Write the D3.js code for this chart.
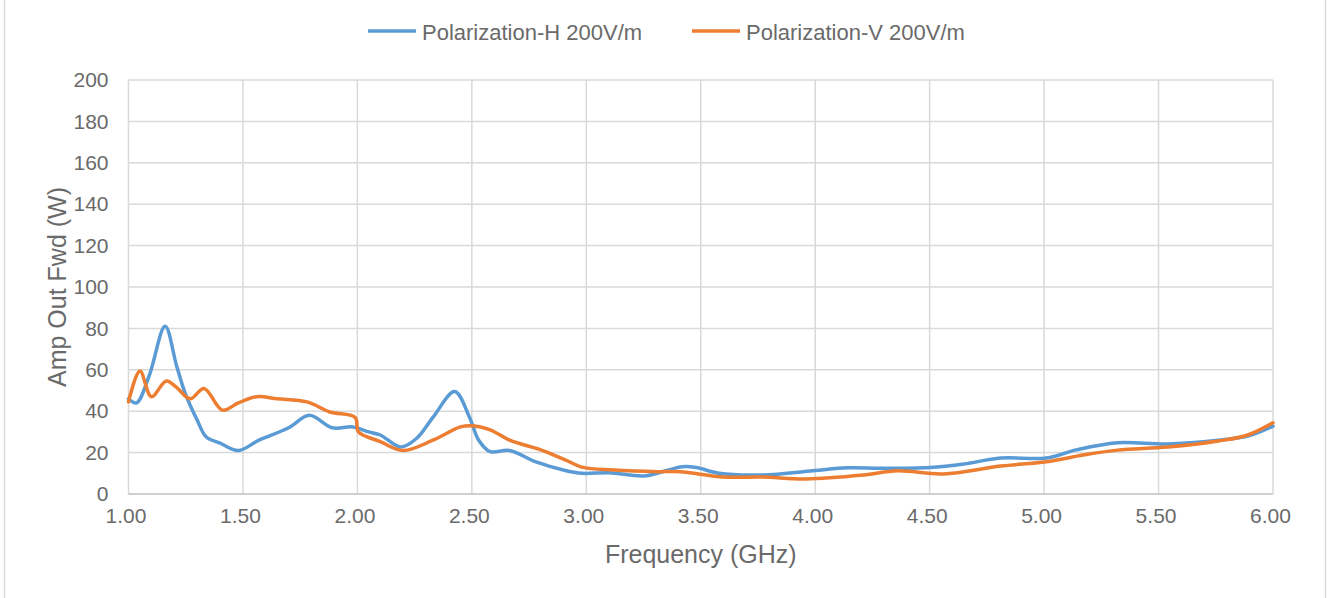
<!DOCTYPE html>
<html>
<head>
<meta charset="utf-8">
<script src="https://cdn.jsdelivr.net/npm/d3@7"></script>
<style>
  html, body { margin: 0; padding: 0; background: #ffffff; }
  svg { display: block; font-family: "Liberation Sans", Arial, sans-serif; }
</style>
</head>
<body>
<svg id="chart" width="1330" height="598"></svg>
<script>
// ---- data ----
const seriesNames = ["Polarization-H 200V/m", "Polarization-V 200V/m"];
const freqH = [1.00, 1.035, 1.09, 1.16, 1.21, 1.25, 1.30, 1.34, 1.40, 1.48, 1.57, 1.70, 1.79, 1.89, 1.98, 2.05, 2.10, 2.19, 2.26, 2.33, 2.425, 2.49, 2.53, 2.58, 2.665, 2.78, 2.90, 2.98, 3.10, 3.25, 3.34, 3.42, 3.48, 3.58, 3.77, 3.99, 4.14, 4.30, 4.50, 4.65, 4.81, 5.01, 5.14, 5.32, 5.54, 5.76, 5.89, 6.00];
const ampH  = [46, 44, 57, 81, 62, 48, 35.7, 27.5, 24.6, 21, 26, 32, 38, 32, 32.4, 30, 28.5, 22.7, 27, 37, 49.5, 37, 26, 20.5, 21, 15.5, 11.6, 10, 10.3, 8.7, 11, 13.2, 12.8, 10, 9.2, 11.2, 12.7, 12.4, 12.8, 14.5, 17.4, 17.4, 21.3, 24.8, 24.2, 26, 28, 32.8];
const freqV = [1.00, 1.05, 1.10, 1.165, 1.21, 1.27, 1.33, 1.41, 1.48, 1.56, 1.65, 1.78, 1.88, 1.99, 2.005, 2.10, 2.20, 2.33, 2.45, 2.50, 2.58, 2.665, 2.81, 2.91, 2.98, 3.12, 3.31, 3.41, 3.60, 3.77, 3.96, 4.21, 4.36, 4.56, 4.81, 5.01, 5.17, 5.32, 5.54, 5.76, 5.89, 6.00];
const ampV  = [44.5, 59.4, 47, 54.6, 51.5, 46, 51, 40.5, 44, 47, 46, 44.5, 39.6, 37, 30, 25.3, 21, 26, 32.4, 33, 31, 26, 21, 16.4, 13, 11.6, 10.8, 10.8, 8.2, 8.2, 7.3, 9.2, 11.2, 9.7, 13.5, 15.6, 18.8, 21.2, 22.7, 25.6, 28.5, 34.4];
const xTicks = [1.0, 1.5, 2.0, 2.5, 3.0, 3.5, 4.0, 4.5, 5.0, 5.5, 6.0];
const yTicks = [0, 20, 40, 60, 80, 100, 120, 140, 160, 180, 200];
const xTitle = "Frequency (GHz)";
const yTitle = "Amp Out Fwd (W)";

// ---- layout ----
const colors = ["#5b9bd5", "#ed7d31"];
const textColor = "#6a6a6a";
const gridColor = "#d9d9d9";
const plot = { left: 128.5, right: 1273, top: 80, bottom: 494 };

const svg = d3.select("#chart");
const x = d3.scaleLinear().domain([1, 6]).range([plot.left, plot.right]);
const y = d3.scaleLinear().domain([0, 200]).range([plot.bottom, plot.top]);

// outer chart border (left and right edges visible)
svg.append("line").attr("x1", 4.5).attr("x2", 4.5).attr("y1", 0).attr("y2", 598)
  .attr("stroke", "#d9d9d9").attr("stroke-width", 1.5);
svg.append("line").attr("x1", 1325.5).attr("x2", 1325.5).attr("y1", 0).attr("y2", 598)
  .attr("stroke", "#d9d9d9").attr("stroke-width", 1.5);

// gridlines
const g = svg.append("g");
g.selectAll("line.h").data(yTicks).join("line").attr("class", "h")
  .attr("x1", plot.left).attr("x2", plot.right)
  .attr("y1", d => y(d)).attr("y2", d => y(d))
  .attr("stroke", gridColor).attr("stroke-width", 1.5);
g.selectAll("line.v").data(xTicks).join("line").attr("class", "v")
  .attr("x1", d => x(d)).attr("x2", d => x(d))
  .attr("y1", plot.top).attr("y2", plot.bottom)
  .attr("stroke", gridColor).attr("stroke-width", 1.5);
// bottom axis line
g.append("line").attr("x1", plot.left).attr("x2", plot.right)
  .attr("y1", plot.bottom).attr("y2", plot.bottom)
  .attr("stroke", "#c8c8c8").attr("stroke-width", 1.5);

// axes with d3 axis generators (lines hidden, labels only)
const xAxis = svg.append("g").attr("transform", `translate(0,${plot.bottom})`)
  .call(d3.axisBottom(x).tickValues(xTicks).tickFormat(d3.format(".2f")).tickSize(0).tickPadding(14));
const yAxis = svg.append("g").attr("transform", `translate(${plot.left},0)`)
  .call(d3.axisLeft(y).tickValues(yTicks).tickSize(0).tickPadding(20));
[xAxis, yAxis].forEach(a => {
  a.select(".domain").remove();
  a.selectAll("text").attr("fill", textColor).style("font-size", "21px")
    .style("font-family", '"Liberation Sans", Arial, sans-serif');
});
xAxis.selectAll("text").attr("dx", "-3");

// axis titles
svg.append("text").attr("x", (plot.left + plot.right) / 2).attr("y", 563)
  .attr("text-anchor", "middle").attr("fill", textColor).style("font-size", "25px").text(xTitle);
svg.append("text").attr("transform", `translate(66,${(plot.top + plot.bottom) / 2}) rotate(-90)`)
  .attr("text-anchor", "middle").attr("fill", textColor).style("font-size", "25px").text(yTitle);

// series
const line = d3.line().x(d => x(d[0])).y(d => y(d[1])).curve(d3.curveCatmullRom.alpha(0.5));
const series = [d3.zip(freqH, ampH), d3.zip(freqV, ampV)];
series.forEach((s, i) => {
  svg.append("path").datum(s).attr("d", line)
    .attr("fill", "none").attr("stroke", colors[i]).attr("stroke-width", 3.5)
    .attr("stroke-linejoin", "round").attr("stroke-linecap", "round");
});

// legend
const legendX = [368, 692];
seriesNames.forEach((name, i) => {
  const lg = svg.append("g").attr("transform", `translate(${legendX[i]},0)`);
  lg.append("line").attr("x1", 0).attr("x2", 48).attr("y1", 31).attr("y2", 31)
    .attr("stroke", colors[i]).attr("stroke-width", 3.5);
  lg.append("text").attr("x", 54).attr("y", 39.5).attr("fill", textColor)
    .style("font-size", "22px").text(name);
});
</script>
</body>
</html>
